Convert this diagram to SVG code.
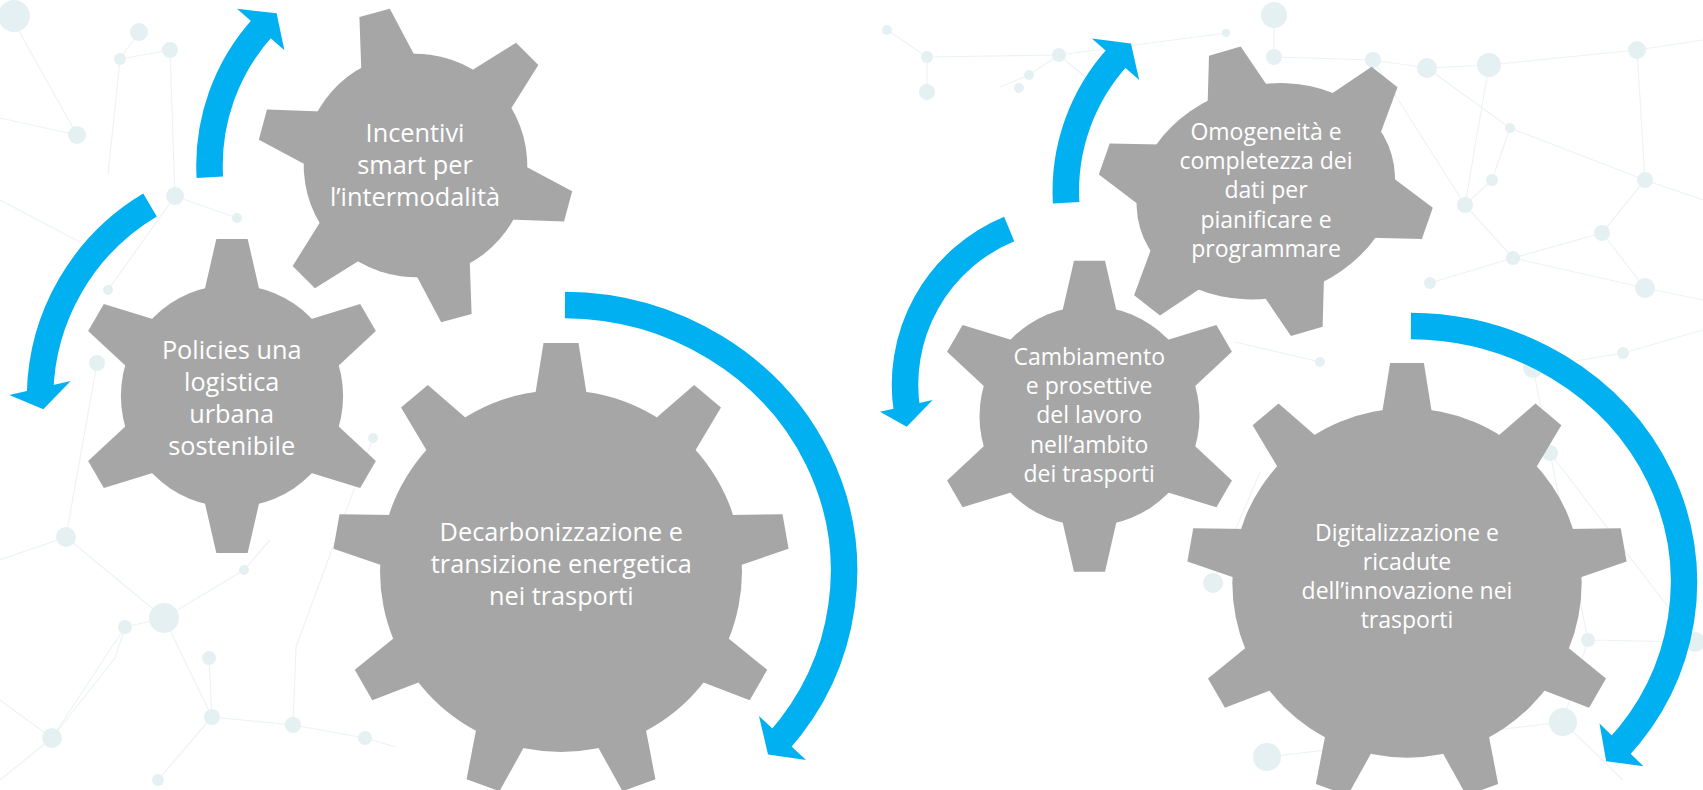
<svg xmlns="http://www.w3.org/2000/svg" width="1703" height="790" viewBox="0 0 1703 790">
<style>
.gear{fill:#A6A6A6}
.arc{fill:none;stroke:#00B0F0;stroke-width:26.5;stroke-linecap:butt}
.head{fill:#00B0F0}
.lbl{font-family:"Open Sans","Liberation Sans",sans-serif;fill:#FFFFFF;text-anchor:middle}
.l1{font-size:25.3px}
.l2{font-size:23px}
.bgl{stroke:#EDF3F5;stroke-width:1.2;fill:none}
.bgd{fill:#E5F0F3}
</style>
<defs>
<polygon id="t9" points="-17.5,-47 17.5,-47 26.3,8 -26.3,8"/>
<polygon id="t6" points="-15.5,-45.5 15.5,-45.5 27.8,8 -27.8,8"/>
<polygon id="t6o" points="-16.5,-40 16.5,-40 32,8 -32,8"/>
<g id="gear9">
<circle r="181"/>
<use href="#t9" transform="translate(0,-181)"/>
<use href="#t9" transform="rotate(40) translate(0,-181)"/>
<use href="#t9" transform="rotate(80) translate(0,-181)"/>
<use href="#t9" transform="rotate(120) translate(0,-181)"/>
<use href="#t9" transform="rotate(160) translate(0,-181)"/>
<use href="#t9" transform="rotate(200) translate(0,-181)"/>
<use href="#t9" transform="rotate(240) translate(0,-181)"/>
<use href="#t9" transform="rotate(280) translate(0,-181)"/>
<use href="#t9" transform="rotate(320) translate(0,-181)"/>
</g>
<g id="gear6">
<circle r="110"/>
<use href="#t6" transform="translate(0,-110)"/>
<use href="#t6" transform="rotate(60) translate(0,-110)"/>
<use href="#t6" transform="rotate(120) translate(0,-110)"/>
<use href="#t6" transform="rotate(180) translate(0,-110)"/>
<use href="#t6" transform="rotate(240) translate(0,-110)"/>
<use href="#t6" transform="rotate(300) translate(0,-110)"/>
</g>
</defs>
<rect width="1703" height="790" fill="#FFFFFF"/>
<g id="background">
<path class="bgl" d="M10,15 L77,135 M0,118 L77,135 M120,59 L170,50 L175,196 M139,32 L120,59 L108,175 M175,196 L237,218 M175,196 L108,290 M0,200 L95,250 M887,30 L927,57 L1059,55 L1226,33 M927,57 L927,92 M1000,87 L1029,75 L1059,55 L1107,95 M1274,15 L1274,57 L1373,60 L1427,68 L1489,65 L1637,50 L1703,40 M1427,68 L1510,128 L1645,180 L1703,200 M1489,65 L1465,205 L1492,180 L1510,128 M1465,205 L1513,258 L1602,233 L1645,180 M1513,258 L1645,288 L1703,300 M1602,233 L1645,288 M1373,60 L1465,205 M1637,50 L1645,180 M1430,283 L1513,258 M1533,368 L1623,353 L1703,330 M1533,368 L1550,453 L1588,640 L1563,722 M1550,453 L1695,642 M1588,640 L1695,642 M1563,722 L1623,780 M1563,722 L1267,757 M1260,472 L1213,583 M1320,362 L1235,342 M97,363 L66,537 L164,618 L125,627 L52,738 M164,618 L244,570 L270,540 M164,618 L212,717 L293,725 L365,738 L396,747 M125,627 L115,658 L52,738 M209,658 L212,717 M296,647 L293,725 M0,560 L66,537 M0,700 L52,738 L0,780 M158,780 L212,717 M373,438 L296,647"/>
<circle class="bgd" cx="14" cy="16" r="16"/>
<circle class="bgd" cx="77" cy="135" r="9"/>
<circle class="bgd" cx="139" cy="32" r="9"/>
<circle class="bgd" cx="170" cy="50" r="8"/>
<circle class="bgd" cx="120" cy="59" r="6"/>
<circle class="bgd" cx="175" cy="196" r="9"/>
<circle class="bgd" cx="237" cy="218" r="5"/>
<circle class="bgd" cx="108" cy="290" r="5"/>
<circle class="bgd" cx="887" cy="30" r="5"/>
<circle class="bgd" cx="927" cy="57" r="6"/>
<circle class="bgd" cx="927" cy="92" r="8"/>
<circle class="bgd" cx="1059" cy="55" r="7"/>
<circle class="bgd" cx="1029" cy="75" r="5"/>
<circle class="bgd" cx="1019" cy="88" r="5"/>
<circle class="bgd" cx="1226" cy="33" r="4"/>
<circle class="bgd" cx="1274" cy="15" r="13"/>
<circle class="bgd" cx="1274" cy="57" r="8"/>
<circle class="bgd" cx="1373" cy="60" r="8"/>
<circle class="bgd" cx="1427" cy="68" r="10"/>
<circle class="bgd" cx="1489" cy="65" r="12"/>
<circle class="bgd" cx="1637" cy="50" r="9"/>
<circle class="bgd" cx="1510" cy="128" r="5"/>
<circle class="bgd" cx="1465" cy="205" r="8"/>
<circle class="bgd" cx="1492" cy="180" r="6"/>
<circle class="bgd" cx="1645" cy="180" r="8"/>
<circle class="bgd" cx="1602" cy="233" r="8"/>
<circle class="bgd" cx="1513" cy="258" r="7"/>
<circle class="bgd" cx="1645" cy="288" r="10"/>
<circle class="bgd" cx="1430" cy="283" r="6"/>
<circle class="bgd" cx="1533" cy="368" r="10"/>
<circle class="bgd" cx="1623" cy="353" r="6"/>
<circle class="bgd" cx="1550" cy="453" r="8"/>
<circle class="bgd" cx="1588" cy="640" r="7"/>
<circle class="bgd" cx="1563" cy="722" r="14"/>
<circle class="bgd" cx="1695" cy="642" r="10"/>
<circle class="bgd" cx="1213" cy="583" r="10"/>
<circle class="bgd" cx="1267" cy="757" r="14"/>
<circle class="bgd" cx="1320" cy="362" r="5"/>
<circle class="bgd" cx="97" cy="363" r="8"/>
<circle class="bgd" cx="66" cy="537" r="10"/>
<circle class="bgd" cx="164" cy="618" r="15"/>
<circle class="bgd" cx="125" cy="627" r="7"/>
<circle class="bgd" cx="209" cy="658" r="7"/>
<circle class="bgd" cx="52" cy="738" r="10"/>
<circle class="bgd" cx="212" cy="717" r="8"/>
<circle class="bgd" cx="293" cy="725" r="8"/>
<circle class="bgd" cx="365" cy="738" r="7"/>
<circle class="bgd" cx="244" cy="570" r="5"/>
<circle class="bgd" cx="373" cy="438" r="5"/>
<circle class="bgd" cx="158" cy="780" r="6"/>
</g>
<g id="gear-decarbonizzazione">
<use href="#gear9" class="gear" transform="translate(561,571)"/>
<text class="lbl l1" x="561.3" y="540.8">Decarbonizzazione e</text>
<text class="lbl l1" x="561.3" y="573">transizione energetica</text>
<text class="lbl l1" x="561.3" y="605.2">nei trasporti</text>
</g>
<g id="gear-incentivi">
<use href="#gear6" class="gear" transform="translate(415.5,165.5) rotate(-15) scale(1.016)"/>
<text class="lbl l1" x="415" y="142">Incentivi</text>
<text class="lbl l1" x="415" y="173.8">smart per</text>
<text class="lbl l1" x="415" y="205.6">l’intermodalità</text>
</g>
<g id="gear-policies">
<use href="#gear6" class="gear" transform="translate(232,396) scale(1.01)"/>
<text class="lbl l1" x="231.7" y="358.5">Policies una</text>
<text class="lbl l1" x="231.7" y="390.5">logistica</text>
<text class="lbl l1" x="231.7" y="422.5">urbana</text>
<text class="lbl l1" x="231.7" y="454.5">sostenibile</text>
</g>
<g id="gear-digitalizzazione">
<use href="#gear9" class="gear" transform="translate(1407,583) scale(0.965)"/>
<text class="lbl l2" x="1407" y="540.7">Digitalizzazione e</text>
<text class="lbl l2" x="1407" y="569.9">ricadute</text>
<text class="lbl l2" x="1407" y="599.1">dell’innovazione nei</text>
<text class="lbl l2" x="1407" y="628.3">trasporti</text>
</g>
<g id="gear-omogeneita">
<g class="gear" transform="translate(1265.8,191.2) rotate(-16.3)">
<ellipse rx="131" ry="106"/>
<use href="#t6o" transform="translate(0,-106)"/>
<use href="#t6o" transform="translate(113.45,-53) rotate(54.5)"/>
<use href="#t6o" transform="translate(113.45,53) rotate(125.5)"/>
<use href="#t6o" transform="translate(0,106) rotate(180)"/>
<use href="#t6o" transform="translate(-113.45,53) rotate(234.5)"/>
<use href="#t6o" transform="translate(-113.45,-53) rotate(-54.5)"/>
</g>
<text class="lbl l2" x="1266" y="140">Omogeneità e</text>
<text class="lbl l2" x="1266" y="169.2">completezza dei</text>
<text class="lbl l2" x="1266" y="198.4">dati per</text>
<text class="lbl l2" x="1266" y="227.6">pianificare e</text>
<text class="lbl l2" x="1266" y="256.8">programmare</text>
</g>
<g id="gear-cambiamento">
<use href="#gear6" class="gear" transform="translate(1089.5,416.2)"/>
<text class="lbl l2" x="1089.2" y="365">Cambiamento</text>
<text class="lbl l2" x="1089.2" y="394.2">e prosettive</text>
<text class="lbl l2" x="1089.2" y="423.4">del lavoro</text>
<text class="lbl l2" x="1089.2" y="452.6">nell’ambito</text>
<text class="lbl l2" x="1089.2" y="481.8">dei trasporti</text>
</g>
<g id="connectors">
<path class="arc" d="M209.84,177.36 A206,206 0 0 1 263.62,26.33"/>
<polygon class="head" points="237.07,8.75 276.6,13.37 284.4,50.33"/>
<path class="arc" d="M150,205 A225.3,225.3 0 0 0 40.06,394"/>
<polygon class="head" points="9.3,395 43.3,409.3 70.7,381"/>
<path class="arc" d="M564.96,305 A281,266 0 0 1 778.25,742"/>
<polygon class="head" points="759,716 768,754.5 806,760"/>
<path class="arc" d="M1066.13,202.71 A200,200 0 0 1 1118.34,56.08"/>
<polygon class="head" points="1091.87,38.41 1130.94,43.5 1139.21,79.99"/>
<path class="arc" d="M1009.2,229 A168.6,168.6 0 0 0 907.2,412"/>
<polygon class="head" points="880,411.7 906.7,426.7 932.7,400"/>
<path class="arc" d="M1410.9,326 A275,256 0 0 1 1616.5,750"/>
<polygon class="head" points="1599.5,723.5 1606.2,761.2 1643.5,766.3"/>
</g>
</svg>
